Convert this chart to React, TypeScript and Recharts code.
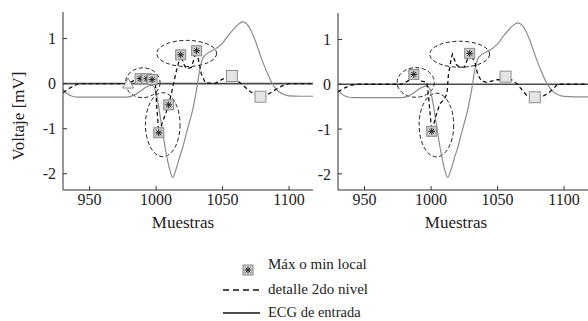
import { ComposedChart, Line, Scatter, XAxis, YAxis, ReferenceLine, ReferenceArea, Label } from 'recharts'

const FONT = '"Liberation Serif", "Times New Roman", serif'

const X_DOMAIN = [930, 1118]
const Y_DOMAIN = [-2.36, 1.59]
const X_TICKS = [950, 1000, 1050, 1100]
const Y_TICKS = [-2, -1, 0, 1]

// input ECG, same for both panels [sample, mV]
const ecg = [
  [930, -0.13], [933, -0.22], [937, -0.28], [942, -0.3], [960, -0.3], [978, -0.3],
  [983, -0.26], [988, -0.17], [993, -0.07], [997, -0.04], [999, -0.1], [1001, -0.35],
  [1004, -0.9], [1007, -1.45], [1010, -1.88], [1012.5, -2.08], [1015, -1.9], [1018, -1.6],
  [1020, -1.42], [1023, -1.08], [1025, -0.86], [1027.5, -0.58], [1030.5, -0.12], [1033, 0.33],
  [1035, 0.56], [1038, 0.66], [1042, 0.73], [1046, 0.8], [1050, 0.9], [1054, 1.06],
  [1058, 1.2], [1062, 1.32], [1065, 1.37], [1068, 1.33], [1071, 1.2], [1074, 1.0],
  [1077, 0.75], [1080, 0.5], [1083, 0.28], [1086, 0.08], [1089, -0.07], [1092, -0.17],
  [1096, -0.24], [1100, -0.27], [1108, -0.28], [1118, -0.28],
]

// 2nd level detail, left panel
const detailLeft = [
  [930, -0.2], [935, -0.1], [940, -0.02], [945, 0], [978, 0], [982, 0.05], [986, 0.1],
  [988, 0.11], [993, 0.11], [997, 0.09], [999.5, 0.0], [1000.5, -0.5], [1002, -1.09],
  [1009.5, -0.47], [1012, -0.15], [1015, 0.25], [1018.5, 0.64], [1021, 0.42], [1023, 0.33],
  [1026.5, 0.36], [1030.5, 0.73], [1034, 0.22], [1037, 0.02], [1044, 0.0], [1050, 0.1],
  [1057, 0.17], [1061, 0.07], [1066, -0.05], [1070, -0.16], [1074, -0.24], [1078.5, -0.29],
  [1084, -0.24], [1089, -0.15], [1094, -0.06], [1100, 0], [1118, 0],
]

// 2nd level detail, right panel
const detailRight = [
  [930, -0.17], [935, -0.08], [940, -0.02], [945, 0], [978, 0], [983, 0.08], [987, 0.22],
  [990, 0.14], [993, 0.07], [996.8, 0.04], [997.5, -0.1], [1000.5, -1.05], [1004, -0.67],
  [1006.5, -0.44], [1010, -0.33], [1012, -0.2], [1013, 0.2], [1015, 0.55], [1016, 0.67],
  [1019, 0.44], [1021.5, 0.38], [1025, 0.38], [1026.5, 0.49], [1029, 0.69], [1033, 0.49],
  [1035, 0.22], [1038, 0.07], [1042, 0.04], [1049, 0.1], [1053, 0.1], [1056, 0.17],
  [1060.5, 0.1], [1065, 0], [1069, -0.15], [1072.5, -0.27], [1078, -0.29], [1084, -0.27],
  [1089, -0.18], [1093, -0.07], [1095, 0], [1118, 0],
]

// local max / min markers
const starsLeft = [[988, 0.11], [993, 0.11], [997, 0.09], [1002, -1.09], [1009.5, -0.47], [1018.5, 0.64], [1030.5, 0.73]]
const starsRight = [[987, 0.22], [1000.5, -1.05], [1029, 0.69]]
const squaresLeft = [[1057, 0.17], [1078.5, -0.29]]
const squaresRight = [[1056, 0.17], [1078, -0.29]]
const trianglesLeft = [[979, 0.0]]

// dashed ellipses [x1, x2, y1, y2]
const ellipsesLeft = [[977, 1003, -0.31, 0.35], [992, 1018, -1.62, -0.2], [1000.5, 1045.5, 0.38, 0.96]]
const ellipsesRight = [[974.5, 1002.5, -0.29, 0.37], [991, 1017, -1.62, -0.2], [999, 1044, 0.38, 0.96]]

const LEGEND = ['Máx o min local', 'detalle 2do nivel', 'ECG de entrada']

const pts = (arr: number[][]) => arr.map(([x, y]) => ({ x, y }))

function StarSquare({ cx, cy }: any) {
  const s = 5
  const a = 3.3
  const d = a * 0.72
  return (
    <g>
      <rect x={cx - s} y={cy - s} width={2 * s} height={2 * s} fill="#c9c9c9" stroke="#8a8a8a" strokeWidth={1} />
      <path
        d={`M${cx - a},${cy}H${cx + a}M${cx},${cy - a}V${cy + a}M${cx - d},${cy - d}L${cx + d},${cy + d}M${cx - d},${cy + d}L${cx + d},${cy - d}`}
        stroke="#222"
        strokeWidth={1}
      />
    </g>
  )
}

function PlainSquare({ cx, cy }: any) {
  const s = 5.5
  return <rect x={cx - s} y={cy - s} width={2 * s} height={2 * s} fill="#e4e4e4" stroke="#8f8f8f" strokeWidth={1} />
}

function Triangle({ cx, cy }: any) {
  const s = 5.5
  return <path d={`M${cx},${cy - s}L${cx + s},${cy + s * 0.8}L${cx - s},${cy + s * 0.8}Z`} fill="#f4f4f4" stroke="#8f8f8f" strokeWidth={1} />
}

function EllipseShape(props: any) {
  const { x, y, width, height } = props
  return (
    <ellipse
      cx={x + width / 2}
      cy={y + height / 2}
      rx={Math.abs(width) / 2}
      ry={Math.abs(height) / 2}
      fill="none"
      stroke="#1e1e1e"
      strokeWidth={1}
      strokeDasharray="4 2.5"
    />
  )
}

function Panel({
  left,
  top,
  detail,
  stars,
  squares,
  triangles,
  ellipses,
  labelDx,
}: {
  left: number
  top: number
  detail: number[][]
  stars: number[][]
  squares: number[][]
  triangles: number[][]
  ellipses: number[][]
  labelDx: number
}) {
  const tick = { fontSize: 16, fill: '#222', fontFamily: FONT }
  return (
    <div style={{ position: 'absolute', left, top: 0 }}>
      <ComposedChart width={313} height={240} margin={{ top, right: 0, bottom: 0, left: 0 }}>
        <XAxis
          type="number"
          dataKey="x"
          domain={X_DOMAIN}
          ticks={X_TICKS}
          allowDataOverflow
          height={50}
          tickSize={-4}
          tickMargin={8}
          axisLine={{ stroke: '#333' }}
          tickLine={{ stroke: '#333' }}
          tick={tick}
        >
          <Label value="Muestras" position="insideBottom" offset={12} dx={labelDx} style={{ fontSize: 17, fill: '#222', fontFamily: FONT }} />
        </XAxis>
        <YAxis
          type="number"
          domain={Y_DOMAIN}
          ticks={Y_TICKS}
          allowDataOverflow
          width={63}
          tickSize={-4}
          tickMargin={11}
          axisLine={{ stroke: '#333' }}
          tickLine={{ stroke: '#333' }}
          tick={tick}
        />
        <ReferenceLine y={0} stroke="#4a4a4a" strokeWidth={1.6} />
        <Line data={pts(ecg)} dataKey="y" type="monotone" dot={false} stroke="#8c8c8c" strokeWidth={1.2} isAnimationActive={false} />
        <Line data={pts(detail)} dataKey="y" type="linear" dot={false} stroke="#111" strokeWidth={1.3} strokeDasharray="4 3" isAnimationActive={false} />
        {ellipses.map(([x1, x2, y1, y2], i) => (
          <ReferenceArea key={i} x1={x1} x2={x2} y1={y1} y2={y2} shape={EllipseShape} />
        ))}
        <Scatter data={pts(triangles)} dataKey="y" shape={Triangle} isAnimationActive={false} />
        <Scatter data={pts(squares)} dataKey="y" shape={PlainSquare} isAnimationActive={false} />
        <Scatter data={pts(stars)} dataKey="y" shape={StarSquare} isAnimationActive={false} />
      </ComposedChart>
    </div>
  )
}

export default function App() {
  const textStyle = { fontSize: 15, fill: '#222', fontFamily: FONT }
  return (
    <div style={{ position: 'absolute', left: 0, top: 0, width: 588, height: 321, background: '#fff', overflow: 'hidden' }}>
      <Panel left={0} top={12} detail={detailLeft} stars={starsLeft} squares={squaresLeft} triangles={trianglesLeft} ellipses={ellipsesLeft} labelDx={-5} />
      <Panel left={275} top={13} detail={detailRight} stars={starsRight} squares={squaresRight} triangles={[]} ellipses={ellipsesRight} labelDx={-7} />
      <svg width={588} height={321} style={{ position: 'absolute', left: 0, top: 0, pointerEvents: 'none' }}>
        <text x={18} y={116} transform="rotate(-90 18 116)" textAnchor="middle" dominantBaseline="central" style={{ ...textStyle, fontSize: 17 }}>
          Voltaje [mV]
        </text>
        <StarSquare cx={248} cy={270} />
        <text x={268} y={269} style={textStyle}>{LEGEND[0]}</text>
        <line x1={223} x2={260} y1={290} y2={290} stroke="#111" strokeWidth={1.3} strokeDasharray="6 4" />
        <text x={268} y={294} style={textStyle}>{LEGEND[1]}</text>
        <line x1={223} x2={260} y1={313} y2={313} stroke="#111" strokeWidth={1.3} />
        <text x={268} y={317} style={{ ...textStyle, fontSize: 14.5 }}>{LEGEND[2]}</text>
      </svg>
    </div>
  )
}
